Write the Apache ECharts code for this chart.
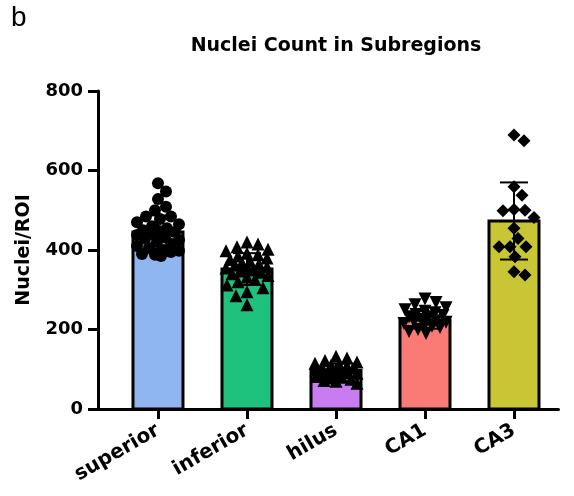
<!DOCTYPE html>
<html>
<head>
<meta charset="utf-8">
<script src="https://cdn.jsdelivr.net/npm/echarts@6/dist/echarts.min.js"></script>
<style>html,body{margin:0;padding:0;background:#fff;}#c{width:574px;height:496px;}</style>
</head>
<body>
<div id="c"></div>
<script>
const categories = ['superior', 'inferior', 'hilus', 'CA1', 'CA3'];
const barColors = ['#8fb6f0', '#1fc27d', '#c97cf0', '#fa7b75', '#c9c636'];
const symbols = ['circle', 'triangle', 'triangle', 'path://M0,0 L10,0 L5,9 Z', 'diamond'];
const means = [445, 352, 97, 224, 473];
const sds = [42, 40, 17, 22, 97];
const yTicks = [0, 200, 400, 600, 800];

const superiorVals = [568, 547, 528, 509, 500, 484, 484, 478, 470, 465, 460, 455, 450, 448, 445, 440, 438, 432, 428, 425, 420, 415, 410, 405, 400, 398, 395, 390, 388, 385];
const inferiorVals = [420, 415, 408, 402, 398, 392, 388, 385, 380, 376, 372, 368, 365, 362, 358, 355, 352, 350, 347, 344, 340, 336, 332, 326, 320, 312, 305, 295, 285, 262];
const hilusVals = [133, 128, 122, 118, 115, 112, 110, 108, 105, 103, 100, 98, 96, 94, 92, 90, 88, 85, 82, 80, 78, 75, 72, 70, 65];
const ca1Vals = [277, 268, 262, 255, 250, 246, 242, 238, 235, 232, 228, 225, 222, 220, 218, 215, 212, 208, 205, 200, 195, 190];
const ca3Vals = [689, 675, 559, 538, 502, 500, 499, 482, 455, 429, 408, 408, 408, 383, 345, 337];
const pointSets = [superiorVals, inferiorVals, hilusVals, ca1Vals, ca3Vals];

// deterministic beeswarm layout (pixel-approximate)
const PX_PER_UNIT_Y = 318 / 800, PX_PER_CAT = 89, DIAM = 11, MAXOFF = 21;
function swarm(vals, ci) {
  const placed = [];
  const out = [];
  const sorted = vals.slice().sort((a, b) => b - a);
  const cands = [0];
  for (let k = 1; k <= MAXOFF; k++) { cands.push(k, -k); }
  sorted.forEach(v => {
    const y = v * PX_PER_UNIT_Y;
    let best = null, bestScore = -Infinity;
    for (const x of cands) {
      let minD = Infinity;
      for (const p of placed) {
        const d = Math.hypot(x - p.x, y - p.y);
        if (d < minD) minD = d;
      }
      if (minD >= DIAM) { best = x; break; }
      if (minD > bestScore + 0.5) { bestScore = minD; best = x; }
    }
    placed.push({x: best, y});
    out.push([ci + best / PX_PER_CAT, v]);
  });
  return out;
}

const barData = means.map((m, i) => [i, m, sds[i]]);

const series = [{
  type: 'custom',
  renderItem: function (params, api) {
    const i = api.value(0);
    const top = api.coord([i, api.value(1)]);
    const bot = api.coord([i, 0]);
    const w = 50;
    return {
      type: 'rect',
      shape: {x: top[0] - w / 2, y: top[1], width: w, height: bot[1] - top[1]},
      style: {fill: barColors[i], stroke: '#000', lineWidth: 3}
    };
  },
  data: barData,
  z: 2
}, {
  type: 'custom',
  renderItem: function (params, api) {
    const i = api.value(0), m = api.value(1), s = api.value(2);
    const hi = api.coord([i, m + s]);
    const lo = api.coord([i, m - s]);
    const cw = 14;
    const st = {stroke: '#000', lineWidth: 2};
    return {
      type: 'group', children: [
        {type: 'line', shape: {x1: hi[0], y1: hi[1], x2: lo[0], y2: lo[1]}, style: st},
        {type: 'line', shape: {x1: hi[0] - cw, y1: hi[1], x2: hi[0] + cw, y2: hi[1]}, style: st},
        {type: 'line', shape: {x1: lo[0] - cw, y1: lo[1], x2: lo[0] + cw, y2: lo[1]}, style: st}
      ]
    };
  },
  data: barData,
  z: 3
}];
pointSets.forEach((vals, ci) => {
  series.push({
    type: 'scatter',
    data: swarm(vals, ci),
    symbol: symbols[ci],
    symbolSize: ci === 0 ? 12 : 13,
    itemStyle: {color: '#000', opacity: 1},
    z: 4,
    silent: true
  });
});

const chart = echarts.init(document.getElementById('c'), null, {renderer: 'canvas'});
chart.setOption({
  animation: false,
  backgroundColor: '#fff',
  grid: {left: 98, right: 15.5, top: 91, bottom: 87, containLabel: false},
  xAxis: {
    type: 'value', min: -0.674, max: 4.5,
    splitLine: {show: false},
    axisLine: {show: true, onZero: false, lineStyle: {color: '#000', width: 3}},
    axisTick: {show: true, length: 10, lineStyle: {color: '#000', width: 3}, customValues: [0, 1, 2, 3, 4]},
    axisLabel: {
      customValues: [0, 1, 2, 3, 4],
      formatter: v => categories[Math.round(v)],
      rotate: 30, margin: 20,
      fontFamily: 'DejaVu Sans', fontWeight: 'bold', fontSize: 20, color: '#000'
    }
  },
  yAxis: {
    type: 'value', min: 0, max: 800, interval: 200,
    splitLine: {show: false},
    axisLine: {show: true, onZero: false, lineStyle: {color: '#000', width: 3}},
    axisTick: {show: true, length: 10, lineStyle: {color: '#000', width: 3}},
    axisLabel: {margin: 15, fontFamily: 'DejaVu Sans', fontWeight: 'bold', fontSize: 18, color: '#000',
      formatter: v => yTicks.includes(v) ? String(v) : ''},
    name: 'Nuclei/ROI', nameLocation: 'middle', nameGap: 64, nameRotate: 90,
    nameTextStyle: {fontFamily: 'DejaVu Sans', fontWeight: 'bold', fontSize: 19, color: '#000'}
  },
  graphic: [
    {type: 'text', left: 11, top: 4, style: {text: 'b', font: '28px "Liberation Sans"', fill: '#000'}},
    {type: 'text', x: 336, y: 46, style: {text: 'Nuclei Count in Subregions', font: 'bold 19px "DejaVu Sans"', fill: '#000', align: 'center', verticalAlign: 'middle'}}
  ],
  series: series
});
</script>
</body>
</html>
